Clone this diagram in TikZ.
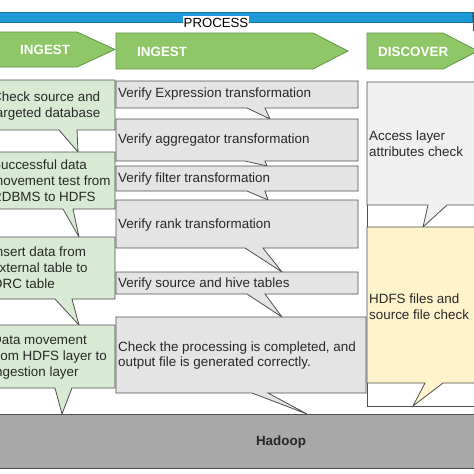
\documentclass[tikz,border=0pt]{standalone}
\usepackage{fontspec}
\setmainfont{Liberation Sans}
\usetikzlibrary{positioning}

\definecolor{barblue}{RGB}{31,152,216}
\definecolor{phasegreen}{RGB}{143,199,104}
\definecolor{phaseedge}{RGB}{98,150,70}
\definecolor{callgreen}{RGB}{216,234,212}
\definecolor{callgray}{RGB}{228,228,228}
\definecolor{accgray}{RGB}{240,240,240}
\definecolor{callyellow}{RGB}{255,243,204}
\definecolor{basegray}{RGB}{168,168,168}
\definecolor{edgegray}{RGB}{78,78,78}
\definecolor{txtgray}{RGB}{40,40,40}

\begin{document}
\begin{tikzpicture}[
  x=1pt, y=-1pt,
  font=\fontsize{13.4}{15.8}\selectfont,
  bar/.style={fill=barblue, draw=barblue!75!black, line width=0.5pt},
  phase/.style={fill=phasegreen, draw=phaseedge, line width=0.8pt},
  phasetxt/.style={anchor=west, inner sep=0pt, text=white,
    font=\fontsize{13.4}{15.8}\selectfont\bfseries},
  lcall/.style={fill=callgreen, draw=edgegray, line width=0.8pt},
  mcall/.style={fill=callgray, draw=edgegray, line width=0.8pt},
  acall/.style={fill=accgray, draw=edgegray, line width=0.8pt},
  ycall/.style={fill=callyellow, draw=edgegray, line width=0.8pt},
  frame/.style={fill=white, draw=edgegray, line width=0.8pt},
  base/.style={fill=basegray, draw=edgegray, line width=0.8pt},
  txt/.style={anchor=west, align=left, inner sep=0pt, text=txtgray},
]
\useasboundingbox (0,0) rectangle (474,474);

% ── top: process bar ────────────────────────────────────────────────────────
\draw[bar] (-5,12) rectangle (472,22);
\draw[edgegray, line width=1pt] (473.5,12) -- (473.5,31);
\node[fill=white, inner xsep=1pt, inner ysep=1.5pt,
      font=\fontsize{13.2}{15}\selectfont] (proc) at (216,22.5) {PROCESS};

% ── phase arrows ────────────────────────────────────────────────────────────
\draw[phase] (-5,32) -- (77,32) -- (115,49.5) -- (77,67) -- (-5,67) -- cycle;
\draw[phase] (116,33) -- (313,33) -- (348,51) -- (313,69) -- (116,69) -- cycle;
\draw[phase] (367,33) -- (443,33) -- (478,51) -- (443,69) -- (367,69) -- cycle;

\node[phasetxt] (ing1) at (20,49.5) {INGEST};
\node[phasetxt] (ing2) at (137,52) {INGEST};
\node[phasetxt] (disc) at (378,52) {DISCOVER};

% ── bottom: base layer ──────────────────────────────────────────────────────
\draw[base] (-5,414) rectangle (480,468);
\node[font=\fontsize{13.4}{15.8}\selectfont\bfseries, text=txtgray,
      inner sep=0pt] (hdp) at (281,442) {Hadoop};

% ── left (green) callouts ───────────────────────────────────────────────────
\draw[lcall] (-20,80) -- (115,80) -- (115,130) -- (77,130) -- (78,152)
  -- (59,130) -- (-20,130) -- cycle;
\draw[lcall] (-20,152) -- (115,152) -- (115,209) -- (73,209) -- (79,237)
  -- (63,209) -- (-20,209) -- cycle;
\draw[lcall] (-20,237) -- (115,237) -- (115,299) -- (72,299) -- (79,325)
  -- (55,299) -- (-20,299) -- cycle;
\draw[lcall] (-20,325) -- (115,325) -- (115,388) -- (72,388) -- (62,414)
  -- (55,388) -- (-20,388) -- cycle;

\node[txt] (chk)  at (-8,106) {Check source and\\targeted database};
\node[txt] (move) at (-8,181) {Successful data\\movement test from\\RDBMS to HDFS};
\node[txt] (ins)  at (-8,268) {Insert data from\\external table to\\ORC table};
\node[txt] (ingl) at (-8,357) {Data movement\\from HDFS layer to\\ingestion layer};

% ── middle (gray) callouts ──────────────────────────────────────────────────
\draw[mcall] (116,81) -- (358,81) -- (358,108) -- (265,108) -- (270,119)
  -- (247,108) -- (116,108) -- cycle;
\draw[mcall] (116,119) -- (358,119) -- (358,161) -- (265,161) -- (267,166)
  -- (245,161) -- (116,161) -- cycle;
\draw[mcall] (116,166) -- (358,166) -- (358,191) -- (265,191) -- (268,200)
  -- (247,191) -- (116,191) -- cycle;
\draw[mcall] (116,200) -- (358,200) -- (358,248) -- (263,248) -- (282,272)
  -- (245,248) -- (116,248) -- cycle;
\draw[mcall] (116,272) -- (358,272) -- (358,294) -- (265,294) -- (282,317)
  -- (247,294) -- (116,294) -- cycle;
\draw[mcall] (116,317) -- (366,317) -- (366,393) -- (268,393) -- (307,414)
  -- (252,393) -- (116,393) -- cycle;

\node[txt] (vexp) at (118,94.5) {Verify Expression transformation};
\node[txt] (vagg) at (118,140.5) {Verify aggregator transformation};
\node[txt] (vfil) at (118,179) {Verify filter transformation};
\node[txt] (vrnk) at (118,225.5) {Verify rank transformation};
\node[txt] (vsrc) at (118,284) {Verify source and hive tables};
\node[txt] (proc2) at (118,355.5)
  {Check the processing is completed, and\\output file is generated correctly.};

% ── right (discover) column ─────────────────────────────────────────────────
\draw[frame] (367,82) rectangle (490,406);
\draw[acall] (367,82) -- (490,82) -- (490,205) -- (447,205) -- (423,227)
  -- (428,205) -- (367,205) -- cycle;
\draw[ycall] (367,227) -- (490,227) -- (490,383) -- (443,383) -- (413,406)
  -- (425,383) -- (367,383) -- cycle;

\node[txt] (attr) at (369,144) {Access layer\\attributes check};
\node[txt] (hdfs) at (369,306.5) {HDFS files and\\source file check};
\end{tikzpicture}
\end{document}
